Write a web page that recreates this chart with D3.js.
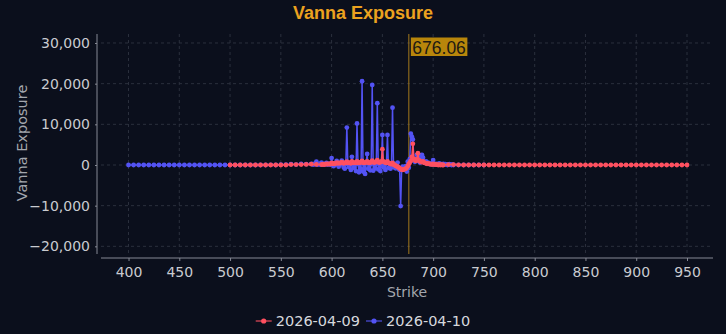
<!DOCTYPE html>
<html lang="en">
<head>
  <meta charset="UTF-8">
  <title>Vanna Exposure</title>
  <script src="https://cdnjs.cloudflare.com/ajax/libs/d3/7.8.5/d3.min.js"></script>
  <style>
    html, body {
      margin: 0;
      padding: 0;
      background: #0b0f1c;
    }
    svg {
      display: block;
    }
  </style>
</head>
<body>
  <svg id="chart" width="726" height="334"></svg>
  <script>
    // strikes and values
    const blueStrikes = [
      400, 405, 410, 415, 420, 425, 430, 435, 440, 445,
      450, 455, 460, 465, 470, 475, 480, 485, 490, 495,
      500, 505, 510, 515, 520, 525, 530, 535, 540, 545,
      550, 555, 560, 565, 570, 575,
      580, 581, 582, 583, 584, 585, 586, 587, 588, 589,
      590, 591, 592, 593, 594, 595, 596, 597, 598, 599,
      600, 601, 602, 603, 604, 605, 606, 607, 608, 609,
      610, 611, 612, 613, 614, 615, 616, 617, 618, 619,
      620, 621, 622, 623, 624, 625, 626, 627, 628, 629,
      630, 631, 632, 633, 634, 635, 636, 637, 638, 639,
      640, 641, 642, 643, 644, 645, 646, 647, 648, 649,
      650, 651, 652, 653, 654, 655, 656, 657, 658, 659,
      660, 661, 662, 663, 664, 665, 666, 667, 668, 669,
      670, 671, 672, 673, 674, 675, 676, 677, 678, 679,
      680, 681, 682, 683, 684, 685, 686, 687, 688, 689,
      690, 691, 692, 693, 694, 695, 696, 697, 698, 699,
      700, 701, 702, 703, 704, 705, 706, 707, 708, 709,
      710, 711, 712, 713, 714, 715, 716, 717, 718, 719,
      720,
      725, 730, 735, 740, 745, 750
    ];
    const blueValues = [
      0, 0, 0, 0, 0, 0, 0, 0, 0, 0,
      0, 0, 0, 0, 0, 0, 0, 0, 0, 0,
      0, 0, 0, 0, 0, 0, 0, 0, 50, 0,
      100, 100, 200, 100, 300, 200,
      300, 200, 100, 300, 200, 800, 100, 200, 300, 100,
      600, 200, 100, 300, 200, 500, 100, 300, 200, 100,
      1700, 200, -300, 300, 100, 1000, 200, -400, 300, 100,
      1100, 200, -600, -900, 300, 9200, 200, -500, 400, -1200,
      2000, 300, -700, 200, -1500, 10200, 300, -1800, 400, -1000,
      20600, -1600, 300, -2200, 500, 2700, -900, 400, -1300, 300,
      19700, -1400, 500, -800, 300, 15200, -1100, 400, -1500, 200,
      7400, -600, 300, -1200, 500, 7400, -700, 300, -900, 200,
      14100, -500, 300, -800, -200, 600, -900, -1200, -10100, -800,
      -400, -1100, -600, -300, -1600, 800, -700, 1500, 7700, 7000,
      6300, 1200, 800, 1400, 2500, 1800, 900, 600, 2400, 2500,
      1800, 700, 500, 900, 400, 600, 300, 200, 400, 200,
      1200, 200, 100, 300, 100, 200, 400, 100, 200, 100,
      300, 100, 200, 100, 0, 100, 200, 100, 0, 100,
      0,
      0, 0, 0, 0, 0, 0
    ];

    const redStrikes = [
      500, 505, 510, 515, 520, 525, 530, 535, 540, 545,
      550, 555, 560, 565, 570, 575, 580, 585,
      590, 591, 592, 593, 594, 595, 596, 597, 598, 599,
      600, 601, 602, 603, 604, 605, 606, 607, 608, 609,
      610, 611, 612, 613, 614, 615, 616, 617, 618, 619,
      620, 621, 622, 623, 624, 625, 626, 627, 628, 629,
      630, 631, 632, 633, 634, 635, 636, 637, 638, 639,
      640, 641, 642, 643, 644, 645, 646, 647, 648, 649,
      650, 651, 652, 653, 654, 655, 656, 657, 658, 659,
      660, 661, 662, 663, 664, 665, 666, 667, 668, 669,
      670, 671, 672, 673, 674, 675, 676, 677, 678, 679,
      680, 681, 682, 683, 684, 685, 686, 687, 688, 689,
      690, 691, 692, 693, 694, 695, 696, 697, 698, 699,
      700, 701, 702, 703, 704, 705, 706, 707, 708, 709,
      710,
      715, 720, 725, 730, 735, 740, 745, 750, 755, 760,
      765, 770, 775, 780, 785, 790, 795, 800, 805, 810,
      815, 820, 825, 830, 835, 840, 845, 850, 855, 860,
      865, 870, 875, 880, 885, 890, 895, 900, 905, 910,
      915, 920, 925, 930, 935, 940, 945, 950
    ];
    const redValues = [
      0, 0, 0, 0, 0, 0, 0, 0, 0, 0,
      0, 0, 100, 100, 100, 150, 200, 150,
      100, 150, 200, 100, 200, 300, 200, 300, 200, 300,
      500, 300, 400, 300, 400, 600, 400, 500, 400, 500,
      700, 500, 400, 500, 600, 800, 500, 600, 500, 400,
      900, 600, 500, 600, 500, 900, 600, 500, 600, 700,
      1000, 600, 500, 600, 700, 900, 600, 500, 600, 700,
      1100, 700, 600, 700, 800, 1200, 700, 600, 700, 900,
      3900, 900, 700, 600, 500, 900, 500, 400, 300, 200,
      500, 100, 0, -200, -300, -400, -600, -800, -1000, -1100,
      -1200, -1100, -1000, -900, -700, -300, 200, 600, 1000, 2000,
      5200, 1500, 1200, 1000, 1400, 2900, 1200, 900, 800, 700,
      900, 600, 500, 400, 300, 400, 300, 200, 200, 100,
      300, 100, 200, 100, 100, 0, 100, 0, 100, 0,
      0,
      100, 100, 50, 0, 0, 0, 0, 0, 0, 0,
      0, 0, 0, 0, 0, 0, 0, 0, 0, 0,
      0, 0, 0, 0, 0, 0, 0, 0, 0, 0,
      0, 0, 0, 0, 0, 0, 0, 0, 0, 0,
      0, 0, 0, 0, 0, 0, 0, 0
    ];

    const seriesNames = ["2026-04-09", "2026-04-10"];
    const spotPrice = 676.06;
    const xTicks = [400, 450, 500, 550, 600, 650, 700, 750, 800, 850, 900, 950];
    const yTicks = [-20000, -10000, 0, 10000, 20000, 30000];

    const W = 726, H = 334;
    const plot = { left: 101, right: 713, top: 34, bottom: 254 };
    const axisColor = "#868994";
    const gridColor = "#2b303d";
    const tickFont = "DejaVu Sans, sans-serif";

    const series = [
      { name: seriesNames[1], color: "#5353f4",
        data: blueStrikes.map((s, i) => ({ strike: s, value: blueValues[i] })) },
      { name: seriesNames[0], color: "#ff5060",
        data: redStrikes.map((s, i) => ({ strike: s, value: redValues[i] })) }
    ];

    const svg = d3.select("#chart");

    const x = d3.scaleLinear().domain([372.9, 975.6]).range([plot.left, plot.right]);
    const y = d3.scaleLinear().domain([-21885, 32213]).range([plot.bottom, plot.top]);

    // title
    svg.append("text")
      .attr("x", W / 2)
      .attr("y", 19)
      .attr("text-anchor", "middle")
      .attr("font-family", "Liberation Sans, Arial, sans-serif")
      .attr("font-weight", "bold")
      .attr("font-size", 18)
      .attr("fill", "#eba21f")
      .text("Vanna Exposure");

    // grid
    svg.append("g")
      .selectAll("line")
      .data(xTicks)
      .enter()
      .append("line")
      .attr("x1", d => x(d)).attr("x2", d => x(d))
      .attr("y1", plot.top).attr("y2", plot.bottom)
      .attr("stroke", gridColor)
      .attr("stroke-dasharray", "3,3");

    svg.append("g")
      .selectAll("line")
      .data(yTicks)
      .enter()
      .append("line")
      .attr("x1", plot.left).attr("x2", plot.right)
      .attr("y1", d => y(d)).attr("y2", d => y(d))
      .attr("stroke", gridColor)
      .attr("stroke-dasharray", "3,3");

    // axes
    const xAxis = svg.append("g")
      .attr("transform", `translate(0,${plot.bottom + 4})`)
      .call(d3.axisBottom(x).tickValues(xTicks).tickSize(3).tickSizeOuter(0).tickPadding(6));
    const yAxis = svg.append("g")
      .attr("transform", `translate(${plot.left - 4},0)`)
      .call(d3.axisLeft(y).tickValues(yTicks).tickFormat(d3.format(",")).tickSize(2).tickSizeOuter(0).tickPadding(5));

    [xAxis, yAxis].forEach(g => {
      g.select(".domain").attr("stroke", axisColor);
      g.selectAll(".tick line").attr("stroke", axisColor);
      g.selectAll(".tick text")
        .attr("fill", "#c9cbd0")
        .attr("font-family", tickFont)
        .attr("font-size", 14);
    });
    xAxis.select(".domain").attr("d", `M${plot.left},0H${plot.right}`);
    yAxis.select(".domain").attr("d", `M0,${plot.top}V${plot.bottom}`);

    // axis titles
    svg.append("text")
      .attr("x", (plot.left + plot.right) / 2)
      .attr("y", 297)
      .attr("text-anchor", "middle")
      .attr("font-family", tickFont)
      .attr("font-size", 14)
      .attr("fill", "#a4a7ae")
      .text("Strike");

    svg.append("text")
      .attr("transform", `translate(27,${(plot.top + plot.bottom) / 2 - 1}) rotate(-90)`)
      .attr("text-anchor", "middle")
      .attr("font-family", tickFont)
      .attr("font-size", 14.5)
      .attr("fill", "#a4a7ae")
      .text("Vanna Exposure");

    // spot line
    svg.append("line")
      .attr("x1", x(spotPrice)).attr("x2", x(spotPrice))
      .attr("y1", plot.top).attr("y2", plot.bottom)
      .attr("stroke", "#a47a1c")
      .attr("stroke-width", 1);

    // series
    const line = d3.line()
      .x(d => x(d.strike))
      .y(d => y(d.value));

    series.forEach(s => {
      const g = svg.append("g");
      g.append("path")
        .datum(s.data)
        .attr("fill", "none")
        .attr("stroke", s.color)
        .attr("stroke-width", 1.5)
        .attr("stroke-linejoin", "round")
        .attr("d", line);
      g.selectAll("circle")
        .data(s.data)
        .enter()
        .append("circle")
        .attr("cx", d => x(d.strike))
        .attr("cy", d => y(d.value))
        .attr("r", 2.4)
        .attr("fill", s.color);
    });

    // spot label
    const lab = svg.append("g");
    const labText = lab.append("text")
      .attr("x", x(spotPrice) + 3.5)
      .attr("y", 53.5)
      .attr("font-family", "Liberation Sans, Arial, sans-serif")
      .attr("font-size", 17.5)
      .attr("fill", "#1e1a12")
      .text(spotPrice.toFixed(2));
    const tw = labText.node().getComputedTextLength();
    lab.insert("rect", "text")
      .attr("x", x(spotPrice) + 2)
      .attr("y", 37.5)
      .attr("width", tw + 3)
      .attr("height", 18.5)
      .attr("fill", "#b8860b");

    // legend
    const legendItems = [series[1], series[0]];
    const legend = svg.append("g");
    let lx = 0;
    legendItems.forEach((s, i) => {
      const item = legend.append("g").attr("transform", `translate(${lx},0)`);
      item.append("line")
        .attr("x1", 0).attr("x2", 16)
        .attr("y1", 0).attr("y2", 0)
        .attr("stroke", s.color)
        .attr("stroke-opacity", 0.55)
        .attr("stroke-width", 2);
      item.append("circle")
        .attr("cx", 8).attr("cy", 0).attr("r", 2.6)
        .attr("fill", s.color);
      const t = item.append("text")
        .attr("x", 20)
        .attr("y", 5.3)
        .attr("font-family", tickFont)
        .attr("font-size", 14.5)
        .attr("fill", "#d6d8dc")
        .text(s.name);
      lx += 20 + t.node().getComputedTextLength() + 6;
    });
    legend.attr("transform", `translate(${W / 2 - (lx - 6) / 2},321)`);
  </script>
</body>
</html>
